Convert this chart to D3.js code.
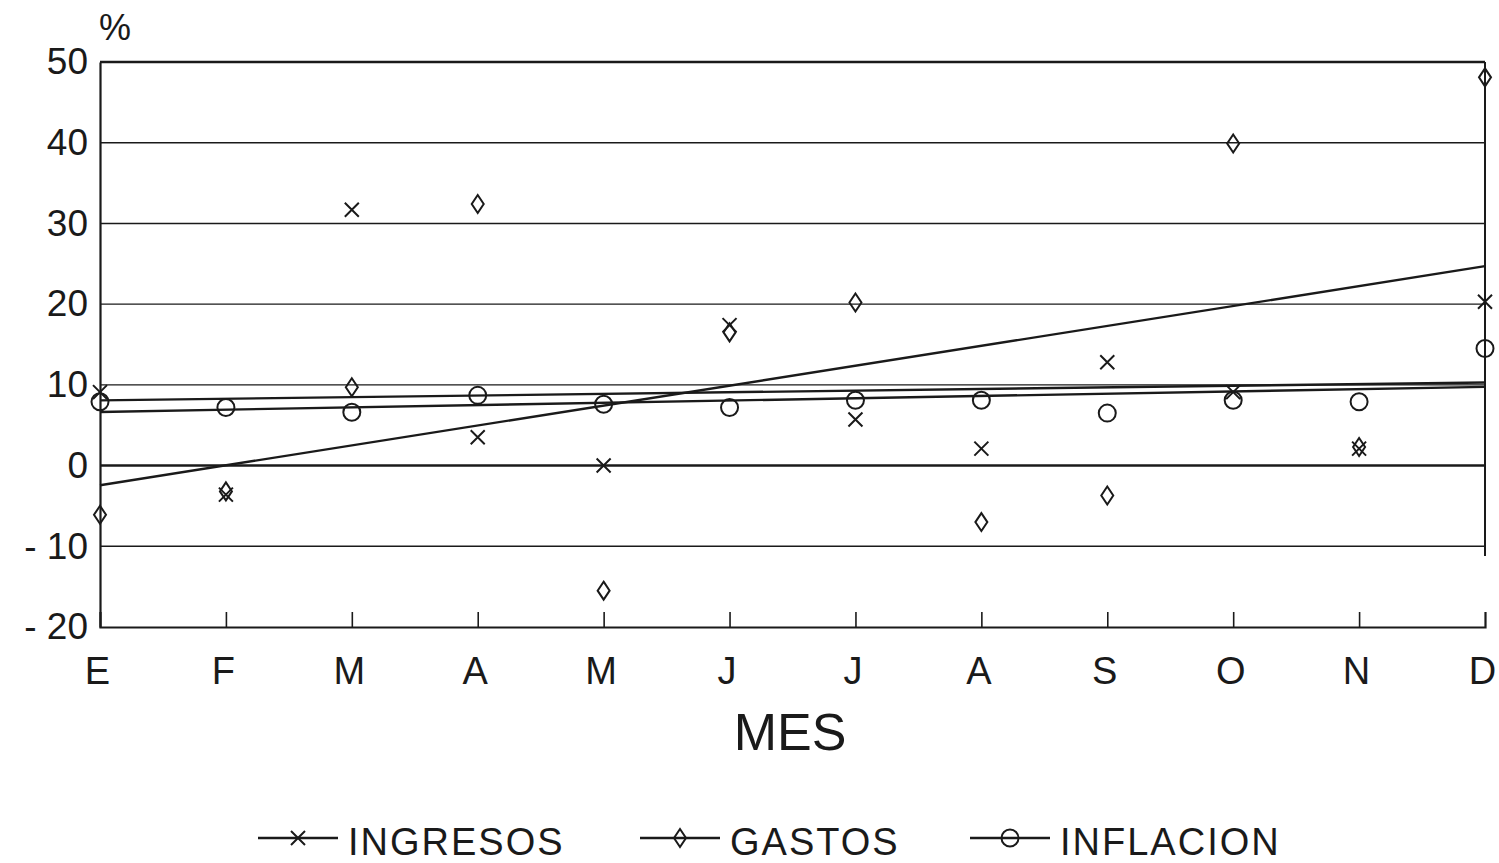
<!DOCTYPE html>
<html>
<head>
<meta charset="utf-8">
<script src="https://cdn.jsdelivr.net/npm/d3@7"></script>
<style>
  body { margin: 0; background: #fff; }
  svg text { fill: #1a1a1a; }
</style>
</head>
<body>
<div id="chart"></div>
<script>
// Data (% change by month)
const months = ["E", "F", "M", "A", "M", "J", "J", "A", "S", "O", "N", "D"];
const ingresos = [9.1, -3.6, 31.7, 3.5, 0.0, 17.4, 5.7, 2.1, 12.8, 9.1, 2.1, 20.3];
const gastos = [-6.1, -3.2, 9.7, 32.4, -15.5, 16.5, 20.2, -7.0, -3.7, 39.9, 2.3, 48.1];
const inflacion = [7.9, 7.2, 6.6, 8.7, 7.6, 7.2, 8.1, 8.1, 6.5, 8.1, 7.9, 14.5];
const yTicks = [-20, -10, 0, 10, 20, 30, 40, 50];
const seriesNames = ["INGRESOS", "GASTOS", "INFLACION"];

const width = 1499;
const height = 863;
const margin = { top: 62, right: 14, bottom: 236, left: 100 };

const svg = d3.select("#chart")
  .append("svg")
  .attr("width", width)
  .attr("height", height);

const x = d3.scaleLinear()
  .domain([0, months.length - 1])
  .range([margin.left, width - margin.right]);

const y = d3.scaleLinear()
  .domain([-20, 50])
  .range([height - margin.bottom, margin.top]);

const ink = "#1a1a1a";

// horizontal grid lines
svg.append("g")
  .selectAll("line")
  .data(yTicks.filter(d => d !== -20))
  .join("line")
  .attr("x1", x(0))
  .attr("x2", x(11))
  .attr("y1", d => y(d))
  .attr("y2", d => y(d))
  .attr("stroke", ink)
  .attr("stroke-width", d => (d === 0 || d === 50) ? 2.5 : 1.4);

// left axis with labels
const yAxis = svg.append("g")
  .attr("transform", `translate(${x(0)},0)`)
  .call(d3.axisLeft(y).tickValues(yTicks).tickSize(0).tickPadding(12));
yAxis.select(".domain").attr("stroke", ink).attr("stroke-width", 2.2);
yAxis.selectAll("text")
  .attr("font-family", "'Liberation Sans', Arial, sans-serif")
  .attr("font-size", 37)
  .attr("fill", ink)
  .style("white-space", "pre")
  .text(d => d < 0 ? "- " + Math.abs(d) : d);

// right edge line (stops short of the bottom, as in the original)
svg.append("line")
  .attr("x1", x(11)).attr("x2", x(11))
  .attr("y1", y(50)).attr("y2", y(-11.2))
  .attr("stroke", ink).attr("stroke-width", 2);

// bottom axis, ticks pointing inward
const xAxis = svg.append("g")
  .attr("transform", `translate(0,${y(-20)})`)
  .call(d3.axisBottom(x).tickValues(d3.range(months.length)).tickSize(-15).tickPadding(30)
    .tickFormat(i => months[i]));
xAxis.select(".domain").attr("stroke", ink).attr("stroke-width", 2.2);
xAxis.selectAll(".tick line").attr("stroke", ink).attr("stroke-width", 1.6)
  .filter(i => i === 0 || i === 11).remove();
xAxis.selectAll("text")
  .attr("font-family", "'Liberation Sans', sans-serif")
  .attr("font-size", 38)
  .attr("fill", ink)
  .attr("dx", -3);

// axis titles
svg.append("text")
  .attr("x", 115).attr("y", 40)
  .attr("text-anchor", "middle")
  .attr("font-family", "'Liberation Sans', sans-serif")
  .attr("font-size", 36)
  .text("%");

svg.append("text")
  .attr("x", 790).attr("y", 750)
  .attr("text-anchor", "middle")
  .attr("font-family", "'Liberation Sans', sans-serif")
  .attr("font-size", 52)
  .text("MES");

// least-squares trend line for a series
function trend(values) {
  const n = values.length;
  const mx = d3.mean(values, (v, i) => i);
  const my = d3.mean(values);
  let sxy = 0, sxx = 0;
  values.forEach((v, i) => { sxy += (i - mx) * (v - my); sxx += (i - mx) * (i - mx); });
  const b = sxy / sxx;
  return [0, n - 1].map(i => [i, my + b * (i - mx)]);
}

const line = d3.line().x(d => x(d[0])).y(d => y(d[1]));
[ingresos, gastos, inflacion].forEach(vals => {
  svg.append("path")
    .attr("d", line(trend(vals)))
    .attr("fill", "none")
    .attr("stroke", ink)
    .attr("stroke-width", 2.4);
});

// marker shapes
function drawMarker(g, type) {
  if (type === 0) {
    g.append("path").attr("d", "M-7,-7L7,7M-7,7L7,-7");
  } else if (type === 1) {
    g.append("path").attr("d", "M0,-9L6,0L0,9L-6,0Z");
  } else {
    g.append("circle").attr("r", 8.5);
  }
  g.selectAll("path, circle")
    .attr("fill", "none")
    .attr("stroke", ink)
    .attr("stroke-width", 2);
}

[ingresos, gastos, inflacion].forEach((vals, s) => {
  svg.append("g")
    .selectAll("g")
    .data(vals)
    .join("g")
    .attr("transform", (d, i) => `translate(${x(i)},${y(d)})`)
    .each(function () { drawMarker(d3.select(this), s); });
});

// legend
const legendX = [258, 640, 970];
const legend = svg.append("g");
seriesNames.forEach((name, s) => {
  const g = legend.append("g").attr("transform", `translate(${legendX[s]},838)`);
  g.append("line").attr("x1", 0).attr("x2", 80)
    .attr("stroke", ink).attr("stroke-width", 2.6);
  drawMarker(g.append("g").attr("transform", "translate(40,0)"), s);
  g.append("text")
    .attr("x", 90).attr("y", 17)
    .attr("font-family", "'Liberation Sans', sans-serif")
    .attr("font-size", 38)
    .attr("letter-spacing", 2)
    .text(name);
});
</script>
</body>
</html>
